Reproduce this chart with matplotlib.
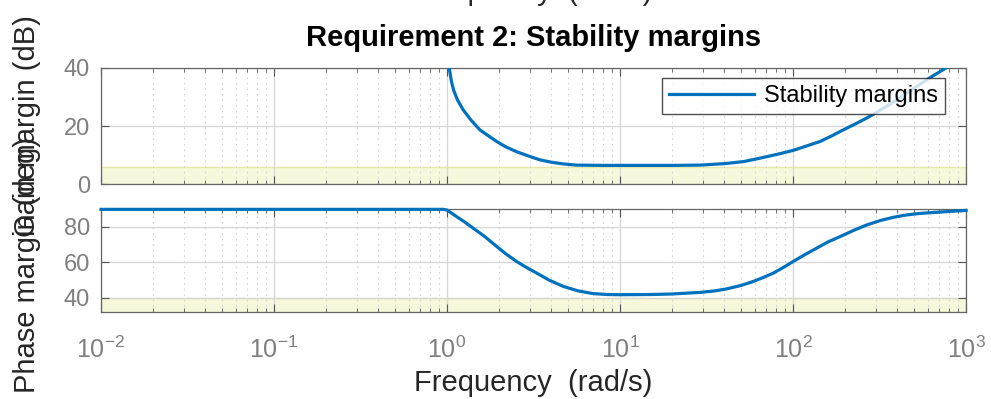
import numpy as np
import matplotlib
matplotlib.use('Agg')
import matplotlib.pyplot as plt
from matplotlib.ticker import LogLocator, NullFormatter, FixedLocator

plt.rcParams['font.family'] = ['Liberation Sans', 'DejaVu Sans']
plt.rcParams['mathtext.fontset'] = 'custom'
plt.rcParams['mathtext.rm'] = 'Liberation Sans'
plt.rcParams['mathtext.it'] = 'Liberation Sans'
plt.rcParams['mathtext.default'] = 'regular'

# gain margin curve (dB)
gm_freq = [1.02, 1.03, 1.06, 1.09, 1.15, 1.24, 1.38, 1.55, 1.75, 1.94, 2.2, 2.53,
           3.0, 3.45, 4.0, 4.7, 5.6, 8, 12, 20, 29, 40, 51.6, 60, 70.5, 85, 102,
           120, 143, 168, 195, 230, 267, 305, 347, 400, 454, 530, 617, 700, 790, 850]
gm_db = [43, 40, 35.5, 32.5, 29, 25.6, 22, 18.7, 16.5, 14.7, 12.8, 11.2,
         9.6, 8.4, 7.6, 7.0, 6.6, 6.5, 6.5, 6.5, 6.6, 7.1, 7.8, 8.6, 9.5, 10.6, 11.8,
         13.2, 14.7, 16.7, 18.7, 20.8, 22.8, 24.8, 26.8, 29.1, 31.4, 34, 36.6, 38.6, 40.5, 42]

# phase margin curve (deg)
pm_freq = [0.01, 0.95, 1.0, 1.05, 1.14, 1.25, 1.42, 1.65, 1.94, 2.2, 2.53, 2.9,
           3.3, 3.9, 4.7, 5.7, 7.0, 8.5, 10, 15, 20, 29, 35, 41, 50, 59, 68, 77,
           88, 100, 117, 137, 160, 187, 225, 267, 320, 380, 450, 540, 740, 1000]
pm_deg = [89.8, 89.8, 89.4, 88, 85.6, 83, 79.1, 74.5, 68.8, 64.5, 60.3, 56.8,
          53.8, 49.8, 46.3, 43.8, 42.2, 41.7, 41.6, 41.7, 42.0, 42.9, 43.7, 44.8, 46.8,
          49.1, 51.5, 53.8, 57, 60.3, 64.2, 67.9, 71.5, 74.4, 78, 81.0, 83.5, 85.3,
          86.6, 87.5, 88.4, 89.2]

gm_req = 6    # dB
pm_req = 40   # deg
gm_yticks = [0, 20, 40]
pm_yticks = [40, 60, 80]

blue = '#0072BD'
band_face = '#f7f7dc'
band_edge = '#e8e8a6'
tick_col = '#7f7f7f'

fig = plt.figure(figsize=(9.91, 3.99), dpi=100)
ax1 = fig.add_axes([0.1019, 0.5381, 0.8729, 0.2915])
ax2 = fig.add_axes([0.1019, 0.2188, 0.8729, 0.2574])

for ax in (ax1, ax2):
    ax.set_xscale('log')
    ax.set_xlim(1e-2, 1e3)
    ax.xaxis.set_major_locator(LogLocator(base=10, numticks=10))
    ax.xaxis.set_minor_locator(LogLocator(base=10, subs=np.arange(2, 10), numticks=20))
    ax.xaxis.set_minor_formatter(NullFormatter())
    ax.grid(True, which='major', color='#d8d8d8', linewidth=1.0, linestyle='-')
    ax.grid(True, which='minor', axis='x', color='#d4d4d4', linewidth=0.8, linestyle=(0, (1.5, 3.5)))
    ax.set_axisbelow(True)
    ax.tick_params(which='both', direction='in', top=True, right=True, colors='#555555',
                   labelcolor=tick_col, labelsize=17)
    ax.tick_params(which='major', length=6, width=0.8, pad=8)
    ax.tick_params(which='minor', length=3, width=0.6)
    for s in ax.spines.values():
        s.set_color('#666666')
        s.set_linewidth(0.9)

# top: gain margin
ax1.set_ylim(0, 40)
ax1.yaxis.set_major_locator(FixedLocator(gm_yticks))
ax1.axhspan(0, gm_req, facecolor=band_face, edgecolor=band_edge, linewidth=1, zorder=0.2)
ax1.plot(gm_freq, gm_db, color=blue, linewidth=2.3, label='Stability margins', zorder=3)
ax1.tick_params(labelbottom=False)
ax1.set_title('Requirement 2: Stability margins', fontsize=21, fontweight='bold', pad=16)
leg = ax1.legend(loc='upper right', bbox_to_anchor=(0.9757, 0.914), borderaxespad=0,
                 fontsize=17, frameon=True, fancybox=False, handlelength=3.6,
                 handletextpad=0.4, borderpad=0.3)
leg.get_frame().set_edgecolor('#222222')
leg.get_frame().set_linewidth(1.0)

# bottom: phase margin
ax2.set_ylim(32, 90)
ax2.yaxis.set_major_locator(FixedLocator(pm_yticks))
ax2.axhspan(32, pm_req, facecolor=band_face, edgecolor=band_edge, linewidth=1, zorder=0.2)
ax2.plot(pm_freq, pm_deg, color=blue, linewidth=2.3, zorder=3, clip_on=False)
ax2.tick_params(axis='x', labelsize=18, pad=18)
ax2.set_xlabel('Frequency  (rad/s)', fontsize=21, color='#262626', labelpad=4)

ax1.set_ylabel('Gain margin (dB)', fontsize=21, color='#262626')
ax2.set_ylabel('Phase margin (deg)', fontsize=21, color='#262626')
ax1.yaxis.set_label_coords(-0.069, 0.5)
ax2.yaxis.set_label_coords(-0.069, 0.45)

# clipped label of the plot above, cut by the figure edge
fig.text(0.538, 1 - 0.5 / 399, 'Frequency  (rad/s)', fontsize=21, color='#262626',
         ha='center', va='baseline')

fig.savefig('out.png', dpi=100)
